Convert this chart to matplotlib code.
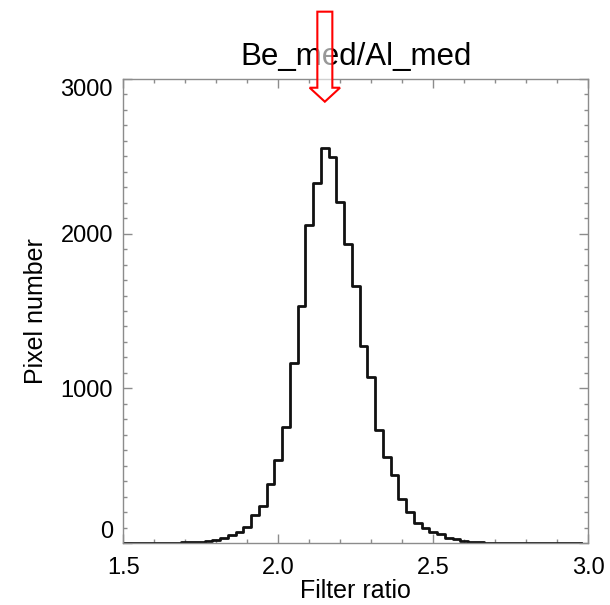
import numpy as np
import matplotlib
matplotlib.use("Agg")
from matplotlib import pyplot as plt
from matplotlib.patches import Polygon
from matplotlib.ticker import MultipleLocator
import matplotlib.transforms as mtransforms

plt.rcParams['font.family'] = ['Liberation Sans', 'DejaVu Sans']

# histogram of the Be_med / Al_med filter ratio, bin centres every 0.025
bin_centers = np.round(np.arange(60) * 0.025 + 1.5, 3)
pixel_counts = [
    0, 1, 3, 1, 1, 1, 1, 3, 4, 6,
    9, 13, 19, 32, 52, 73, 105, 181, 239, 379,
    537, 748, 1162, 1534, 2056, 2329, 2551, 2497, 2202, 1933,
    1663, 1275, 1075, 730, 558, 437, 287, 200, 128, 98,
    68, 55, 34, 24, 15, 9, 5, 3, 2, 1,
    1, 0, 0, 0, 0, 0, 0, 0, 0, 0,
]
x_ticks = [1.5, 2.0, 2.5, 3.0]
x_ticklabels = ['1.5', '2.0', '2.5', '3.0']
y_ticks = [0, 1000, 2000, 3000]
y_ticklabels = ['0', '1000', '2000', '3000']

fig = plt.figure(figsize=(6.10, 6.05), dpi=100)
ax = fig.add_axes([0.2022, 0.1025, 0.7623, 0.7669])

# IDL psym=10 style histogram
ax.step(bin_centers, pixel_counts, where='mid', color='#111111', lw=2.0)

ax.set_xlim(1.5, 3.0)
ax.set_ylim(0, 3000)
ax.set_xticks(x_ticks)
ax.set_xticklabels(x_ticklabels)
ax.set_yticks(y_ticks)
ax.set_yticklabels(y_ticklabels)
ax.xaxis.set_minor_locator(MultipleLocator(0.1))
ax.yaxis.set_minor_locator(MultipleLocator(100))

for s in ax.spines.values():
    s.set_color('#8c8c8c')
    s.set_linewidth(1.0)
ax.tick_params(which='both', direction='in', top=True, right=True,
               colors='#8c8c8c', width=1.0, labelcolor='black', labelsize=17)
ax.tick_params(which='major', length=6.5)
ax.tick_params(which='minor', length=3)
ax.tick_params(axis='x', which='major', pad=10)
ax.tick_params(axis='y', which='major', pad=7.5)

# end labels kept inside the axis range, like IDL
ylabs = ax.get_yticklabels()
ylabs[0].set_va('bottom')
ylabs[-1].set_va('top')

ax.set_xlabel('Filter ratio', fontsize=18, labelpad=0)
ax.set_ylabel('Pixel number', fontsize=18, labelpad=9)
ax.set_title('Be_med/Al_med', fontsize=22.5, pad=10)

# hollow red arrow pointing at the peak bin
peak_x = bin_centers[int(np.argmax(pixel_counts))]
trans = mtransforms.blended_transform_factory(ax.transData, fig.transFigure)
bw, hw = 0.0242, 0.049
y_top, y_neck, y_tip = 0.9807, 0.855, 0.8319
arrow = Polygon([(peak_x - bw, y_top), (peak_x + bw, y_top), (peak_x + bw, y_neck),
                 (peak_x + hw, y_neck), (peak_x, y_tip), (peak_x - hw, y_neck),
                 (peak_x - bw, y_neck)],
                closed=True, transform=trans, clip_on=False,
                facecolor=(1, 1, 1, 0.6), edgecolor='#ff0000', lw=1.5, zorder=10)
fig.patches.append(arrow)

fig.savefig('out.png', dpi=100)
